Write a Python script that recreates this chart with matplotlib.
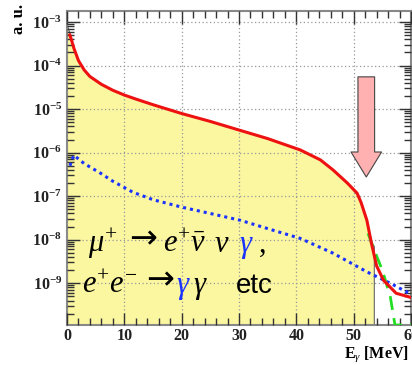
import matplotlib.pyplot as plt
from matplotlib.ticker import MultipleLocator, LogLocator, NullFormatter, LogFormatterSciNotation

plt.rcParams['font.family'] = 'Liberation Serif'
plt.rcParams['font.weight'] = 'bold'
plt.rcParams['mathtext.fontset'] = 'custom'
plt.rcParams['mathtext.it'] = 'Liberation Serif:style=italic:weight=normal'
plt.rcParams['mathtext.rm'] = 'Liberation Serif:weight=normal'
plt.rcParams['mathtext.bf'] = 'Liberation Serif:bold'
plt.rcParams['mathtext.fallback'] = 'stix'

# total spectrum (red)
total_e = [0.5, 0.8, 1.2, 2, 3, 4, 6, 8, 10, 12, 15, 20, 25, 30, 35, 40.7, 44.2,
           46.4, 48.9, 50.6, 51.3, 52.3, 53.1, 54, 55.2, 57.4, 60]
total_y = [5.0e-4, 3.8e-4, 2.5e-4, 1.3e-4, 7.9e-5, 5.6e-5, 3.7e-5, 2.7e-5, 2.1e-5,
           1.7e-5, 1.26e-5, 7.9e-6, 5.2e-6, 3.3e-6, 2.1e-6, 1.15e-6, 6.8e-7,
           4.0e-7, 2.0e-7, 1.17e-7, 7.1e-8, 2.8e-8, 8.3e-9, 2.5e-9, 1.17e-9,
           5.9e-10, 4.7e-10]

# accidental photon background (yellow histogram)
bkg_e = [0, 0.5, 0.8, 1.2, 2, 3, 4, 6, 8, 10, 12, 15, 20, 25, 30, 35, 40.7, 44.2,
         46.4, 48.9, 50.6, 51.1, 52.2, 53.2, 53.6, 53.6]
bkg_y = [9.0e-4, 5.5e-4, 3.8e-4, 2.5e-4, 1.3e-4, 7.9e-5, 5.6e-5, 3.7e-5, 2.7e-5,
         2.1e-5, 1.7e-5, 1.26e-5, 7.9e-6, 5.2e-6, 3.3e-6, 2.1e-6, 1.15e-6, 6.8e-7,
         4.0e-7, 2.0e-7, 1.1e-7, 8.1e-8, 3.0e-8, 8.3e-9, 7.0e-9, 1.1e-10]

# radiative decay + annihilation (blue dotted)
rad_e = [0.5, 1.2, 3, 5.8, 8, 11.5, 15, 20, 25, 30.2, 35, 40.7, 46.4, 52.4, 56.4, 60]
rad_y = [5.0e-7, 8.7e-7, 5.6e-7, 3.4e-7, 2.2e-7, 1.23e-7, 8.3e-8, 5.6e-8, 4.0e-8,
         2.8e-8, 1.8e-8, 1.07e-8, 4.9e-9, 1.8e-9, 1.0e-9, 5.6e-10]

# resolution tail (green dashed)
tail_e = [52.5, 53.8, 55, 56.4, 57.2, 60]
tail_y = [1.4e-8, 4.9e-9, 2.0e-9, 4.8e-10, 1.1e-10, 1.1e-10]

fig = plt.figure(figsize=(4.12, 3.65), dpi=100)
ax = fig.add_axes([0.1626, 0.1096, 0.835, 0.860])

ax.fill_between(bkg_e, bkg_y, 1.1e-10, color='#fbf6a0', edgecolor='none', zorder=1)
ax.plot(bkg_e, bkg_y, color='#666666', lw=0.8, zorder=1.5)
ax.plot(rad_e, rad_y, color='#1a33ff', lw=2.2, ls=(0, (1, 1.3)), zorder=3)
ax.plot(tail_e, tail_y, color='#22dd22', lw=2, ls=(0, (5, 3)), zorder=3)
ax.plot(total_e, total_y, color='#ee1111', lw=2.2, zorder=4)

ax.set_yscale('log')
ax.set_xlim(0, 60)
ax.set_ylim(1.1e-10, 10 ** -2.75)

ax.xaxis.set_major_locator(MultipleLocator(10))
ax.xaxis.set_minor_locator(MultipleLocator(2))
ax.yaxis.set_major_locator(LogLocator(base=10, numticks=20))
ax.yaxis.set_minor_locator(LogLocator(base=10, subs=range(2, 10), numticks=20))
ax.yaxis.set_minor_formatter(NullFormatter())
ax.yaxis.set_major_formatter(LogFormatterSciNotation())

ax.tick_params(which='both', direction='in', top=True, right=True, colors='#333333',
               labelsize=11.5, labelcolor='#222222')
ax.tick_params(which='major', length=9, width=1)
ax.tick_params(which='minor', length=5, width=1)
ax.tick_params(axis='x', pad=2)

ax.set_axisbelow(False)
ax.grid(True, which='major', color='#999999', lw=0.9, ls=(0, (1, 2)), zorder=2)
for sp in ax.spines.values():
    sp.set_color('#888888')
    sp.set_linewidth(1.5)

# arrow marking the signal region
ax.annotate('', xy=(52.2, 10 ** -6.56), xytext=(52.2, 10 ** -4.26),
            arrowprops=dict(arrowstyle='simple,head_width=2.2,head_length=1.8,tail_width=1.2',
                            mutation_scale=10, fc='#ffb0b0', ec='#444444', lw=0.8,
                            shrinkA=0, shrinkB=0), zorder=5)

# process labels
fs = 22
def px(xp, yp):
    return ((xp - 67) / 344.0, (325 - yp) / 314.0)

pieces = [
    (88, 252, r'$\mu^{+}$', 'black'),
    (163, 252, r'$e^{+}\bar{\nu}$', 'black'),
    (214, 252, r'$\nu$', 'black'),
    (239, 252, r'$\gamma$', '#1a33ff'),
    (259, 252, ',', 'black'),
    (82, 293, r'$e^{+}e^{-}$', 'black'),
    (176, 293, r'$\gamma$', '#1a33ff'),
    (193, 293, r'$\gamma$', 'black'),
]
for xp, yp, s, c in pieces:
    ax.text(*px(xp, yp), s, transform=ax.transAxes, fontsize=fs, color=c,
            ha='left', va='baseline', fontweight='normal', zorder=6)
for xp, yp in [(129, 248), (146, 289)]:
    ax.text(*px(xp, yp), '\u2192', transform=ax.transAxes, fontsize=24,
            family='DejaVu Sans', fontweight='normal', ha='left', va='baseline', zorder=6)
ax.text(*px(236, 293), 'etc', transform=ax.transAxes, fontsize=20,
        family='Liberation Sans', fontweight='normal', ha='left', va='baseline', zorder=6)

fig.text(0.045, 0.99, 'a. u.', rotation=90, ha='center', va='top', fontsize=12)
fig.text(0.835, 0.004, r'E$_{\gamma}$ [MeV]', ha='left', va='bottom', fontsize=11.5)

fig.savefig('out.png', dpi=100)
